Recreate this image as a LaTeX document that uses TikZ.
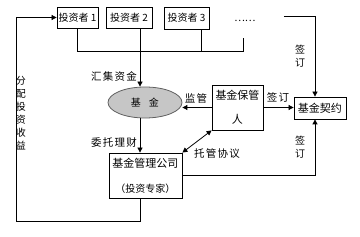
\documentclass[tikz,border=0pt]{standalone}
\usepackage{fontspec}
\setmainfont{Noto Sans CJK SC}
\newfontfamily\spacedcjk[LetterSpace=12]{Noto Sans CJK SC}
\usetikzlibrary{arrows.meta,shapes.geometric,calc}
\begin{document}
\begin{tikzpicture}[x=1pt,y=-1pt,
  box/.style={draw,line width=0.8pt,inner sep=0pt,align=center},
  lbl/.style={inner sep=0pt,font=\spacedcjk\fontsize{10.5}{12}\selectfont},
  vlbl/.style={inner sep=0pt,align=center,font=\fontsize{10}{13}\selectfont},
  ln/.style={line width=0.8pt},
  arr/.style={line width=0.8pt,-{Triangle[length=5pt,width=5pt]}},
  darr/.style={line width=0.8pt,{Triangle[length=5pt,width=5pt]}-{Triangle[length=5pt,width=5pt]}}]
\useasboundingbox (0,0) rectangle (360,237);
% investors
\node[box,minimum width=41pt,minimum height=21pt,font=\fontsize{10}{12}\selectfont] (inv1) at (77.5,17.5) {投资者 1};
\node[box,minimum width=46pt,minimum height=21pt,font=\fontsize{10}{12}\selectfont] (inv2) at (129,17.5) {投资者 2};
\node[box,minimum width=45pt,minimum height=22pt,font=\fontsize{10}{12}\selectfont] (inv3) at (186.5,18) {投资者 3};
\node[inner sep=0pt,font=\fontsize{10}{12}\selectfont] (dots) at (245,21) {……};
% fund
\node[ellipse,draw=gray!75!black,fill=gray!45,line width=0.8pt,minimum width=74pt,minimum height=31pt,inner sep=0pt,font=\fontsize{10}{12}\selectfont] (fund) at (145,102.5) {基\hspace{0.8em}金};
% boxes
\node[box,minimum width=51pt,minimum height=45pt,font=\fontsize{11}{24}\selectfont] (cust) at (237.5,107.5) {基金保管\\人};
\node[box,minimum width=52pt,minimum height=22pt,font=\fontsize{11}{13}\selectfont] (contract) at (320,108) {基金契约};
\node[box,minimum width=73pt,minimum height=45pt,font=\fontsize{11}{25}\selectfont] (mgmt) at (145.5,175.5) {基金管理公司\\{\fontsize{10}{12}\selectfont（投资专家）}};
% helper coordinates
\coordinate (a2) at (140,28);
\coordinate (bus) at (243,51);
\coordinate (dl) at (243,38);
\coordinate (x3) at (201,51);
\coordinate (tr) at (284,16);
\coordinate (cx) at (315,0);
\coordinate (lb) at (16,221);
% investor collection lines
\draw[ln] (inv1.south) |- (bus) -- (dl);
\draw[ln] (x3 |- inv3.south) -- (x3);
\draw[arr] (a2 |- inv2.south) -- (a2 |- fund.north);
\draw[arr] (a2 |- fund.south) -- (a2 |- mgmt.north);
% return loop
\draw[arr] (a2 |- mgmt.south) |- (lb) |- (inv1.west);
% contract lines
\draw[arr] (tr) -| (cx |- contract.north);
\draw[arr] (mgmt.east) -| (cx |- contract.south);
\draw[arr] (cust.west) -- (cust.west -| fund.east);
\draw[arr] (cust.east) -- (cust.east -| contract.west);
\draw[darr] (cust.south west) -- (mgmt.north east);
% labels
\node[lbl] (l1) at (114,76) {汇集资金};
\node[lbl] (l2) at (114,143) {委托理财};
\node[lbl] (l3) at (196,98) {监管};
\node[lbl] (l4) at (278,97) {签订};
\node[lbl] (l5) at (217,154) {托管协议};
\node[vlbl] (l6) at (300,56.5) {签\\订};
\node[vlbl] (l7) at (300,147.5) {签\\订};
\node[vlbl] (l8) at (21,113.5) {分\\配\\投\\资\\收\\益};
\end{tikzpicture}
\end{document}
